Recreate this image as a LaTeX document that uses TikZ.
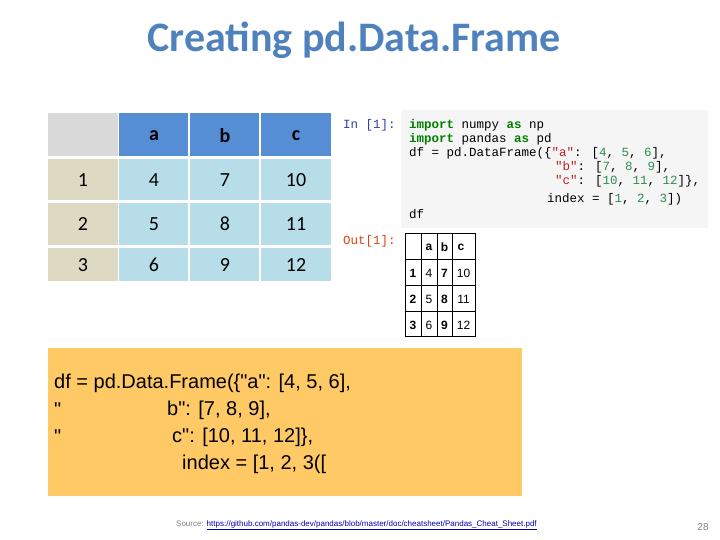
\documentclass[tikz,border=0pt]{standalone}
\usepackage{fontspec}
\setmainfont{Carlito}
\newfontfamily\arialf{Liberation Sans}
\newfontfamily\monof{Liberation Mono}
\definecolor{ttl}{HTML}{4F81BD}
\definecolor{hgray}{HTML}{D9D9D9}
\definecolor{hblue}{HTML}{558ED5}
\definecolor{tan}{HTML}{DDD9C3}
\definecolor{lblue}{HTML}{B7DEE8}
\definecolor{orng}{HTML}{FFC966}
\definecolor{codebg}{HTML}{F5F5F5}
\definecolor{kw}{HTML}{008000}
\definecolor{str}{HTML}{BA2121}
\definecolor{num}{HTML}{2E8B57}
\definecolor{inred}{HTML}{D84315}
\definecolor{inblue}{HTML}{303F9F}
\begin{document}
\begin{tikzpicture}[x=1pt,y=-1pt,
  cell/.style={font=\fontsize{20}{24}\selectfont},
  hcell/.style={font=\fontsize{20}{24}\selectfont\bfseries},
  code/.style={font=\monof\fontsize{12.5}{14}\selectfont,anchor=west,inner sep=0pt},
  otab/.style={font=\arialf\fontsize{12}{14}\selectfont,inner sep=0pt},
  otabb/.style={font=\arialf\bfseries\fontsize{12}{14}\selectfont,inner sep=0pt}]
\useasboundingbox (0,0) rectangle (720,540);
\node[text=ttl,font=\fontsize{42}{48}\selectfont\bfseries] (title) at (354,40) {Creating pd.Data.Frame};
% left table
\fill[hgray] (48,113) rectangle (118,156);
\foreach \a/\b in {119/188,190/259,261/331}{\fill[hblue] (\a,113) rectangle (\b,156);}
\foreach \t/\u in {159/200,203/245,248/281}{
  \fill[tan] (48,\t) rectangle (118,\u);
  \foreach \a/\b in {119/188,190/259,261/331}{\fill[lblue] (\a,\t) rectangle (\b,\u);}
}
\node[hcell] (ha) at (154,136) {a};
\node[hcell] (hb) at (225,136) {b};
\node[hcell] (hc) at (296,136) {c};
\node[cell] (r1) at (83,180) {1};
\node[cell] (c14) at (154,180) {4};
\node[cell] (c17) at (225,180) {7};
\node[cell] (c110) at (296,180) {10};
\node[cell] (r2) at (83,224) {2};
\node[cell] (c25) at (154,224) {5};
\node[cell] (c28) at (225,224) {8};
\node[cell] (c211) at (296,224) {11};
\node[cell] (r3) at (83,265) {3};
\node[cell] (c36) at (154,265) {6};
\node[cell] (c39) at (225,265) {9};
\node[cell] (c312) at (296,265) {12};
% notebook
\fill[codebg] (401,110) rectangle (708,228);
\node[code,text=inblue] (inp) at (343,125) {In [1]:};
\node[code,text=inred] (outp) at (343,241) {Out[1]:};
\node[code] (l1) at (409,125) {\textcolor{kw}{\bfseries import} numpy \textcolor{kw}{\bfseries as} np};
\node[code] (l2) at (409,139) {\textcolor{kw}{\bfseries import} pandas \textcolor{kw}{\bfseries as} pd};
\node[code] (l3) at (409,153) {df = pd.DataFrame(\{\textcolor{str}{"a"}: [\textcolor{num}{4}, \textcolor{num}{5}, \textcolor{num}{6}],};
\node[code] (l4) at (555,167) {\textcolor{str}{"b"}: [\textcolor{num}{7}, \textcolor{num}{8}, \textcolor{num}{9}],};
\node[code] (l5) at (555,181) {\textcolor{str}{"c"}: [\textcolor{num}{10}, \textcolor{num}{11}, \textcolor{num}{12}]\},};
\node[code] (l6) at (547,199) {index = [\textcolor{num}{1}, \textcolor{num}{2}, \textcolor{num}{3}])};
\node[code] (l7) at (409,214) {df};
% output table
\draw[line width=0.5pt] (405,233) rectangle (475,336);
\foreach \y in {259,285,311}{\draw[line width=0.5pt] (405,\y) -- (475,\y);}
\foreach \x in {421,437,452}{\draw[line width=0.5pt] (\x,233) -- (\x,336);}
\draw[line width=1pt] (452,233) -- (452,336);
\node[otabb] (oa) at (429,247) {a};
\node[otabb] (ob) at (444.5,247) {b};
\node[otabb] (oc) at (461,247) {c};
\foreach \r/\y/\p/\q/\s in {1/273/4/7/10,2/299/5/8/11,3/325/6/9/12}{
  \node[otabb] at (413,\y) {\r};
  \node[otab] at (429,\y) {\p};
  \node[otabb] at (444.5,\y) {\q};
  \node[otab] at (463.5,\y) {\s};
}
% orange box
\fill[orng] (48,348) rectangle (522,496);
\begin{scope}[every node/.style={font=\arialf\fontsize{20}{24}\selectfont,anchor=west,inner sep=0pt}]
\node (o1) at (54,383) {df = pd.Data.Frame(\{"a": [4, 5, 6],};
\node (o2) at (54,410) {"};
\node (o2b) at (167,410) {b": [7, 8, 9],};
\node (o3) at (54,437) {"};
\node (o3b) at (172,437) {c": [10, 11, 12]\},};
\node (o4) at (182,464) {index = [1, 2, 3([};
\end{scope}
\node[anchor=west,inner sep=0pt,font=\arialf\fontsize{8}{9}\selectfont] (src) at (176,525) {\textcolor{gray}{Source:} \textcolor{blue!70!black}{\underline{https://github.com/pandas-dev/pandas/blob/master/doc/cheatsheet/Pandas\_Cheat\_Sheet.pdf}}};
\node[font=\arialf\fontsize{10}{12}\selectfont,text=gray] (pg) at (703,527) {28};
\end{tikzpicture}
\end{document}
